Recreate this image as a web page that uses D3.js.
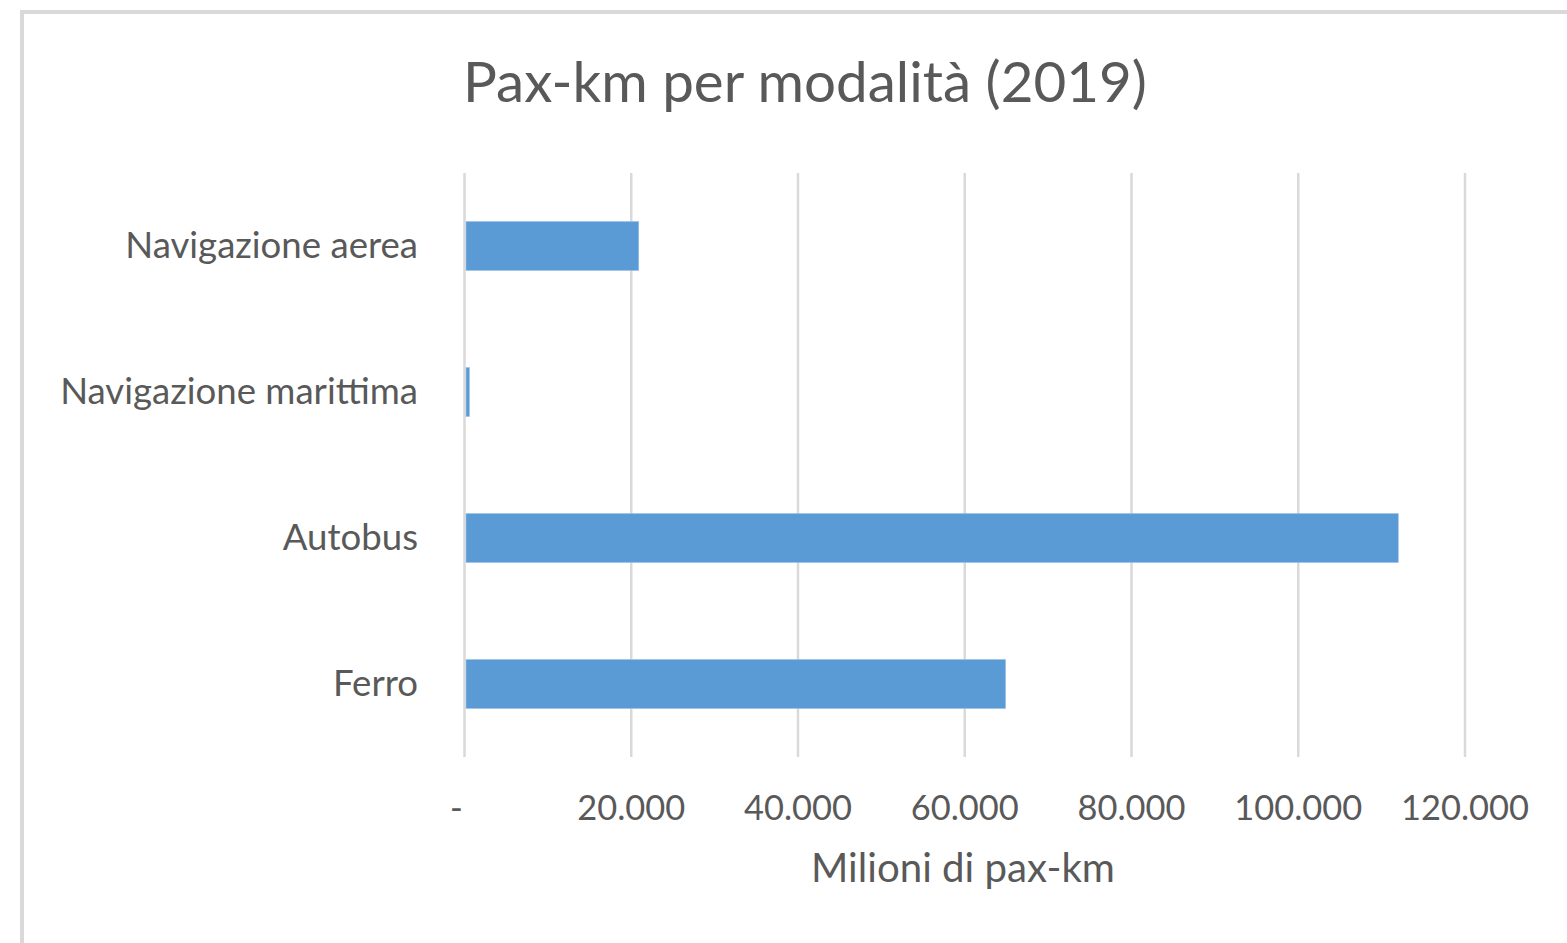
<html><head>
<meta charset="UTF-8">
<script src="https://cdn.jsdelivr.net/npm/d3@7"></script>
<style>
body{margin:0;background:#fff}
text{font-family:Lato,"Open Sans",sans-serif;fill:#595959}
</style>
</head><body>
<svg id="chart" width="1567" height="943"></svg>
<script>
// dati (milioni di pax-km, 2019)
var categories = ["Ferro", "Autobus", "Navigazione marittima", "Navigazione aerea"];
var values = [64900, 112000, 600, 20900];
var ticks = [0, 20000, 40000, 60000, 80000, 100000, 120000];
var title = "Pax-km per modalità (2019)";
var axisTitle = "Milioni di pax-km";

var svg = d3.select("#chart");
var it = d3.formatLocale({decimal: ",", thousands: ".", grouping: [3], currency: ["€", ""]});
var fmt = function(d){ return d === 0 ? "-" : it.format(",")(d); };

// fit text width to what the original shows
function fit(sel, target){
  var w = sel.node().getComputedTextLength();
  var fs = parseFloat(sel.attr("font-size"));
  sel.attr("font-size", fs * target / w);
}

// chart frame
svg.append("rect").attr("x", 22).attr("y", 12).attr("width", 1600).attr("height", 1000)
  .attr("fill", "#fff").attr("stroke", "#d9d9d9").attr("stroke-width", 4);

var x = d3.scaleLinear().domain([0, 120000]).range([464.5, 1465]);
var y = d3.scaleBand().domain(categories).range([757, 173]).paddingInner(0.664).paddingOuter(0.332);

// gridlines
svg.append("g").selectAll("line").data(ticks).join("line")
  .attr("x1", function(d){ return x(d); }).attr("x2", function(d){ return x(d); })
  .attr("y1", 173).attr("y2", 757)
  .attr("stroke", "#d9d9d9").attr("stroke-width", 2.5);

// bars
svg.append("g").selectAll("rect").data(categories).join("rect")
  .attr("x", x(0) + 1.5)
  .attr("y", function(d){ return y(d); })
  .attr("width", function(d, i){ return x(values[i]) - x(0) - 1.5; })
  .attr("height", y.bandwidth())
  .attr("fill", "#5b9bd5").attr("stroke", "#9dc3e6").attr("stroke-width", 0.6);

// category labels
var cl = svg.append("g").selectAll("text").data(categories).join("text")
  .attr("x", 418).attr("y", function(d){ return y(d) + y.bandwidth()/2 - 1.5; })
  .attr("dy", "0.36em").attr("text-anchor", "end").attr("font-size", 30)
  .text(function(d){ return d; });
var ref = cl.filter(function(d){ return d === "Navigazione marittima"; });
var w0 = ref.node().getComputedTextLength();
cl.attr("font-size", 30 * 358 / w0);

// tick labels ("-" for zero sits a little left, as in Excel's accounting format)
var tl = svg.append("g").selectAll("text").data(ticks).join("text")
  .attr("x", function(d){ return d === 0 ? x(d) - 8 : x(d); }).attr("y", 820)
  .attr("text-anchor", "middle").attr("font-size", 36)
  .text(fmt);
var w1 = tl.filter(function(d){ return d === 20000; }).node().getComputedTextLength();
tl.attr("font-size", 36 * 108 / w1);

// title
var t = svg.append("text").attr("x", 805).attr("y", 102).attr("text-anchor", "middle")
  .attr("font-size", 50).text(title);
fit(t, 684);

// axis title
var at = svg.append("text").attr("x", 963).attr("y", 882).attr("text-anchor", "middle")
  .attr("font-size", 36).text(axisTitle);
fit(at, 304);
</script>
</body></html>
